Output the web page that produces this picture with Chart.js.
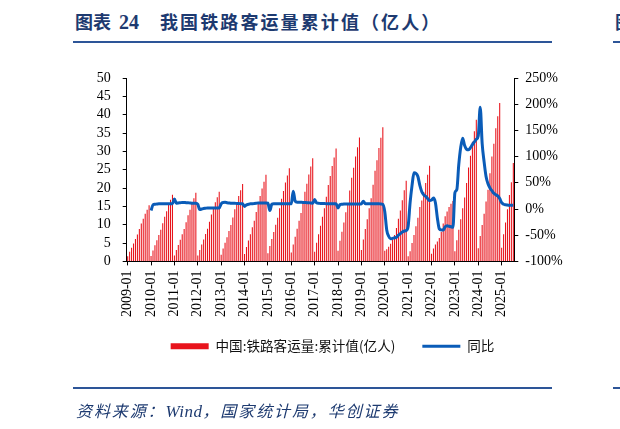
<!DOCTYPE html>
<html>
<head>
<meta charset="utf-8">
<script src="https://cdn.jsdelivr.net/npm/chart.js@4.4.1/dist/chart.umd.min.js"></script>
<style>
  html, body { margin: 0; padding: 0; background: #fff; }
  #wrap { position: relative; width: 620px; height: 429px; overflow: hidden; }
  #chart { position: absolute; left: 0; top: 0; }
  .title { position: absolute; left: 75px; top: 8px; font: bold 18px "Noto Sans CJK SC"; color: #1d3a70; white-space: nowrap; }
  .title .num { font-family: "Liberation Serif"; font-size: 20px; margin-left: 8px; }
  .title .txt { margin-left: 21px; letter-spacing: 2.1px; }
  .frag { position: absolute; left: 615px; top: 8px; font: bold 18px "Noto Sans CJK SC"; color: #1d3a70; }
  .rule { position: absolute; background: #2d5598; }
  .source { position: absolute; left: 76px; top: 398px; font: italic 16px "Noto Sans CJK SC"; color: #1d3a70; white-space: nowrap; letter-spacing: 1.9px; }
  .source .w { font-family: "Liberation Serif"; font-size: 17px; letter-spacing: 0.5px; }
</style>
</head>
<body>
<div id="wrap">
  <div class="title">图表<span class="num">24</span><span class="txt">我国铁路客运量累计值（亿人）</span></div>
  <div class="frag">图</div>
  <div class="rule" style="left:73px;top:41px;width:479px;height:2px"></div>
  <div class="rule" style="left:613px;top:41px;width:7px;height:2px"></div>
  <canvas id="chart" width="620" height="429"></canvas>
  <div class="rule" style="left:73px;top:387px;width:479px;height:1.5px"></div>
  <div class="rule" style="left:613px;top:387px;width:7px;height:1.5px"></div>
  <div class="source">资料来源：<span class="w">Wind</span>，国家统计局，华创证券</div>
</div>
<script>
// 年份（2025年只到7月）
const years = ['2009', '2010', '2011', '2012', '2013', '2014', '2015', '2016',
  '2017', '2018', '2019', '2020', '2021', '2022', '2023', '2024', '2025'];
const lastYearMonths = 7;

// 铁路客运量累计值（亿人），每行一年
const railCum = [
  1.4, 2.6, 3.7, 4.9, 6.1, 7.3, 8.8, 10.3, 11.6, 13.0, 14.1, 15.3,
  1.5, 3.0, 4.4, 5.8, 7.2, 8.6, 10.4, 12.2, 13.7, 15.4, 16.8, 18.2,
  1.6, 3.1, 4.5, 5.9, 7.4, 8.8, 10.7, 12.6, 14.1, 15.8, 17.2, 18.7,
  1.6, 3.1, 4.6, 6.0, 7.5, 8.9, 10.8, 12.8, 14.3, 16.1, 17.5, 19.0,
  1.8, 3.5, 5.1, 6.6, 8.3, 9.9, 12.0, 14.2, 15.9, 17.8, 19.4, 21.1,
  2.0, 3.9, 5.7, 7.4, 9.3, 11.1, 13.5, 15.9, 17.8, 19.9, 21.7, 23.6,
  2.2, 4.2, 6.1, 8.0, 10.0, 11.9, 14.5, 17.1, 19.2, 21.5, 23.4, 25.4,
  2.4, 4.6, 6.7, 8.9, 11.1, 13.2, 16.0, 19.0, 21.2, 23.7, 25.9, 28.1,
  2.6, 5.1, 7.4, 9.7, 12.2, 14.5, 17.6, 20.8, 23.3, 26.0, 28.3, 30.8,
  2.9, 5.6, 8.1, 10.6, 13.4, 15.9, 19.3, 22.8, 25.5, 28.6, 31.1, 33.8,
  3.1, 6.0, 8.8, 11.5, 14.5, 17.2, 20.9, 24.7, 27.6, 30.9, 33.7, 36.6,
  2.9, 3.3, 4.0, 4.8, 5.9, 7.2, 9.1, 11.6, 13.9, 16.7, 19.4, 22.0,
  1.4, 2.8, 5.0, 7.2, 9.6, 11.9, 14.8, 16.6, 18.9, 21.4, 23.6, 26.1,
  2.1, 3.5, 4.6, 5.4, 6.4, 8.0, 10.3, 12.3, 13.6, 14.8, 15.7, 16.5,
  2.8, 5.8, 8.6, 11.5, 14.5, 17.4, 21.4, 25.6, 28.8, 32.6, 35.5, 38.6,
  3.6, 6.9, 9.9, 13.0, 16.3, 19.5, 24.0, 28.6, 32.1, 36.3, 39.6, 43.2,
  3.7, 7.4, 10.6, 14.2, 18.1, 21.6, 26.8
];

// 累计同比（%），2009年无数据
const yoyPct = [
  null, null, null, null, null, null, null, null, null, null, null, null,
  -3, 8, 9, 9.5, 10, 10, 10, 10, 10, 10, 10, 10,
  19, 11, 11.5, 12, 12.5, 12.5, 12, 12, 11.5, 11, 11, 11,
  9, -1, 0, 1, 1.5, 2, 2, 2, 2, 2, 2, 2,
  10, 12.5, 12.7, 12, 11.5, 11, 11, 11, 10.5, 10.5, 10, 10,
  5, 8, 9, 10, 10, 10.5, 11, 11.5, 11.5, 11.5, 11.5, 11.5,
  11, -3, 9, 10, 10, 10, 10, 10, 10, 10, 10, 10,
  10, 34, 15, 13, 13, 12.8, 12.5, 12.5, 12, 12, 11.5, 11,
  18, 11.5, 11, 10.5, 10.5, 10.5, 10, 10, 10, 10, 10, 10,
  2, 8.4, 9, 9.5, 9.5, 9.5, 9.5, 9.5, 9.5, 9.5, 9.5, 9.5,
  10, 14.6, 10, 10, 10, 10, 10, 10, 10, 10, 9.5, 9,
  -5, -40, -52, -57, -56, -55, -54, -50, -47, -44, -42, -41,
  -33, 12, 45, 69, 68, 62, 45, 33, 27, 24, 20, 16,
  17, 21, 12, -17, -38, -40, -40, -34, -32, -33, -34, -35,
  31, 37, 85, 118, 135, 121, 114, 113, 117, 123, 128, 133,
  140, 194, 125, 90, 62, 48, 40, 35, 30, 27, 25, 20,
  12, 9, 8, 7.5, 7, 7, 7
];

const leftAxis = { min: 0, max: 50, step: 5 };
const rightAxis = { min: -100, max: 250, step: 50 };

const labels = [];
years.forEach(y => {
  const n = y === years[years.length - 1] ? lastYearMonths : 12;
  for (let m = 1; m <= n; m++) labels.push(y + '-' + String(m).padStart(2, '0'));
});

const tickFont = { family: '"Liberation Serif", "Times New Roman", serif', size: 14 };

// x轴标签需要的高度比图例位置多一些，把图例往上挪回去
const legendShift = {
  id: 'legendShift',
  afterLayout(chart) {
    chart.legend.top -= 7;
    chart.legend.bottom -= 7;
  }
};

new Chart(document.getElementById('chart').getContext('2d'), {
  data: {
    labels: labels,
    datasets: [
      {
        type: 'bar',
        label: '中国:铁路客运量:累计值(亿人)',
        data: railCum,
        backgroundColor: '#e8141c',
        borderWidth: 0,
        barPercentage: 0.55,
        categoryPercentage: 1,
        pointStyle: 'rect',
        yAxisID: 'y',
        order: 2
      },
      {
        type: 'line',
        label: '同比',
        data: yoyPct,
        borderColor: '#0a5cb8',
        backgroundColor: '#0a5cb8',
        borderWidth: 3,
        pointRadius: 0,
        cubicInterpolationMode: 'monotone',
        pointStyle: 'line',
        yAxisID: 'y1',
        order: 1
      }
    ]
  },
  plugins: [legendShift],
  options: {
    responsive: false,
    animation: false,
    devicePixelRatio: 1,
    layout: { padding: { left: 60, right: 15, top: 78, bottom: 59 } },
    plugins: {
      legend: {
        position: 'bottom',
        labels: {
          usePointStyle: true,
          pointStyleWidth: 38,
          boxHeight: 6,
          padding: 27,
          color: '#111',
          font: { family: '"Noto Sans CJK SC"', size: 13.6 },
          sort: (a, b) => a.datasetIndex - b.datasetIndex
        }
      },
      tooltip: { enabled: false }
    },
    scales: {
      x: {
        offset: true,
        grid: { offset: false, drawOnChartArea: false, tickLength: 4, color: '#000' },
        border: { color: '#000' },
        ticks: {
          autoSkip: false,
          minRotation: 90,
          maxRotation: 90,
          padding: 5,
          color: '#000',
          font: tickFont,
          callback: (v, i) => labels[i].endsWith('-01') ? labels[i] : null
        },
        afterFit: s => { s.height = 58; }
      },
      y: {
        position: 'left',
        min: leftAxis.min,
        max: leftAxis.max,
        grid: { drawOnChartArea: false, tickLength: 4, color: '#000' },
        border: { color: '#000' },
        ticks: { stepSize: leftAxis.step, autoSkip: false, padding: 12, color: '#000', font: tickFont },
        afterFit: s => { s.width = 66.7; }
      },
      y1: {
        position: 'right',
        min: rightAxis.min,
        max: rightAxis.max,
        grid: { drawOnChartArea: false, tickLength: 4, color: '#000' },
        border: { color: '#000' },
        ticks: { stepSize: rightAxis.step, autoSkip: false, padding: 7, color: '#000', font: tickFont, callback: v => v + '%' },
        afterFit: s => { s.width = 90.7; }
      }
    }
  }
});
</script>
</body>
</html>
